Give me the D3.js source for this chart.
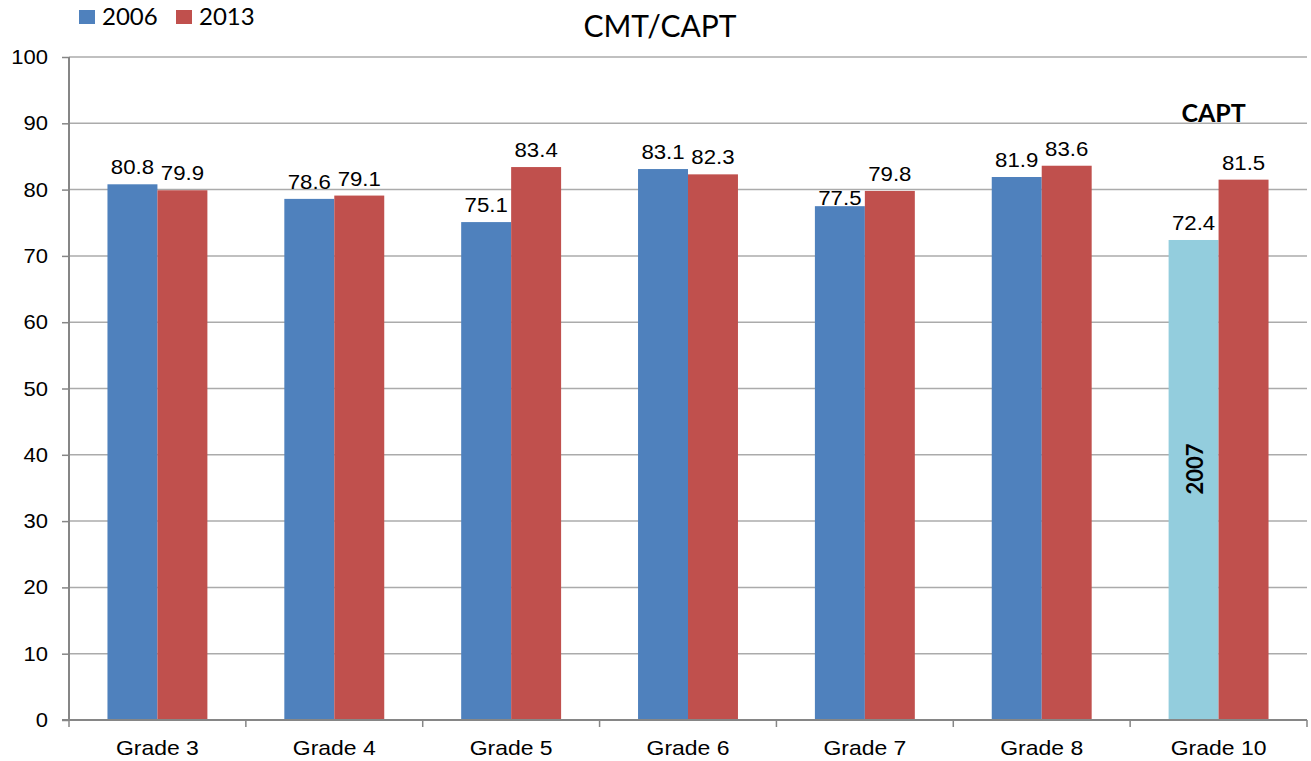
<!DOCTYPE html>
<html>
<head>
<meta charset="utf-8">
<script src="https://cdn.jsdelivr.net/npm/d3@7"></script>
<style>
  html, body { margin: 0; padding: 0; background: #ffffff; }
  svg { display: block; }
</style>
</head>
<body>
<svg id="chart" width="1311" height="761"></svg>
<script>
// ---------------- DATA ----------------
const categories = ["Grade 3", "Grade 4", "Grade 5", "Grade 6", "Grade 7", "Grade 8", "Grade 10"];
const seriesNames = ["2006", "2013"];
const values2006 = [80.8, 78.6, 75.1, 83.1, 77.5, 81.9, 72.4];
const values2013 = [79.9, 79.1, 83.4, 82.3, 79.8, 83.6, 81.5];
const yTicks = [0, 10, 20, 30, 40, 50, 60, 70, 80, 90, 100];
const titleText = "CMT/CAPT";
const captLabel = "CAPT";
const altYearLabel = "2007";          // Grade 10 first bar is actually 2007
const altYearCategory = "Grade 10";

// ---------------- STYLE ----------------
const colors = { "2006": "#4F81BD", "2013": "#C0504D", alt: "#93CDDD" };
const gridColor = "#ABABAB";
const axisColor = "#868686";
const sansFont = "'Liberation Sans', Arial, sans-serif";
const humanFont = "Lato, 'Open Sans', sans-serif";

const svg = d3.select("#chart");
const plot = { left: 69, right: 1307, top: 57, bottom: 720 };

const x = d3.scaleBand().domain(categories).range([plot.left, plot.right])
  .paddingInner(0.435).paddingOuter(0.2175);
const xs = d3.scaleBand().domain(seriesNames).range([0, x.bandwidth()]);
const y = d3.scaleLinear().domain([0, 100]).range([plot.bottom, plot.top]);

const rows = categories.map((c, i) => ({ cat: c, vals: [
  { series: "2006", v: values2006[i] },
  { series: "2013", v: values2013[i] }
]}));

// stretched text helper (reference text is horizontally widened)
function stext(g, tx, ty, sx, txt) {
  return g.append("text").attr("transform", `translate(${tx},${ty}) scale(${sx},1)`).text(txt);
}

// gridlines
svg.append("g").selectAll("line").data(yTicks.filter(t => t > 0)).join("line")
  .attr("x1", plot.left).attr("x2", plot.right)
  .attr("y1", d => y(d)).attr("y2", d => y(d))
  .attr("stroke", gridColor).attr("stroke-width", 1.5);

// bars
const groups = svg.append("g").selectAll("g").data(rows).join("g")
  .attr("transform", d => `translate(${x(d.cat)},0)`);
groups.selectAll("rect").data(d => d.vals.map(v => ({ ...v, cat: d.cat }))).join("rect")
  .attr("x", d => xs(d.series))
  .attr("width", xs.bandwidth())
  .attr("y", d => y(d.v))
  .attr("height", d => y(0) - y(d.v))
  .attr("fill", d => (d.cat === altYearCategory && d.series === "2006") ? colors.alt : colors[d.series]);

// value labels
const labelGap = 10;
const labelNudge = { "Grade 7|2006": 9 }; // label sits lower in reference
const lblG = svg.append("g").attr("font-family", sansFont).attr("font-size", 19.5)
  .attr("fill", "#000").attr("text-anchor", "middle");
rows.forEach(r => r.vals.forEach(v => {
  const cx = x(r.cat) + xs(v.series) + xs.bandwidth() / 2;
  const nudge = labelNudge[r.cat + "|" + v.series] || 0;
  stext(lblG, cx, y(v.v) - labelGap + nudge, 1.14, v.v.toFixed(1));
}));

// y axis
const yAxis = d3.axisLeft(y).tickValues(yTicks).tickSize(7).tickPadding(0).tickFormat(d3.format("d"));
const yg = svg.append("g").attr("transform", `translate(${plot.left},0)`).call(yAxis);
yg.select(".domain").attr("stroke", axisColor).attr("stroke-width", 2).attr("d", `M0,${plot.top}V${plot.bottom}`);
yg.selectAll(".tick line").attr("stroke", axisColor).attr("stroke-width", 1.5);
yg.selectAll(".tick text").remove();
const ylG = svg.append("g").attr("font-family", sansFont).attr("font-size", 20)
  .attr("fill", "#000").attr("text-anchor", "end");
yTicks.forEach(t => stext(ylG, 48, y(t) + 7, 1.1, String(t)));

// x axis
const xBoundaries = d3.range(categories.length + 1).map(i => plot.left + i * x.step());
const xg = svg.append("g");
xg.append("line").attr("x1", plot.left - 7).attr("x2", plot.right)
  .attr("y1", plot.bottom).attr("y2", plot.bottom)
  .attr("stroke", axisColor).attr("stroke-width", 2);
xg.selectAll("line.tk").data(xBoundaries).join("line").attr("class", "tk")
  .attr("x1", d => d).attr("x2", d => d)
  .attr("y1", plot.bottom).attr("y2", plot.bottom + 7)
  .attr("stroke", axisColor).attr("stroke-width", 1.5);
const xlG = svg.append("g").attr("font-family", sansFont).attr("font-size", 20.5)
  .attr("fill", "#000").attr("text-anchor", "middle");
categories.forEach(c => stext(xlG, x(c) + x.bandwidth() / 2, 755, 1.12, c));

// title
svg.append("text").attr("x", 660).attr("y", 37).attr("text-anchor", "middle")
  .attr("font-family", humanFont).attr("font-size", 30).attr("fill", "#000").text(titleText);

// legend
const legend = svg.append("g").attr("font-family", humanFont).attr("font-size", 24).attr("fill", "#000");
const legendX = [79, 176];
seriesNames.forEach((s, i) => {
  legend.append("rect").attr("x", legendX[i]).attr("y", 10).attr("width", 16).attr("height", 14).attr("fill", colors[s]);
  legend.append("text").attr("x", legendX[i] + 23).attr("y", 25).text(s);
});

// CAPT annotation
svg.append("text").attr("x", x(altYearCategory) + x.bandwidth() / 2 - 5).attr("y", 122)
  .attr("text-anchor", "middle").attr("font-family", humanFont).attr("font-weight", "bold")
  .attr("font-size", 25).attr("fill", "#000").text(captLabel);

// 2007 rotated annotation
const altCx = x(altYearCategory) + xs("2006") + xs.bandwidth() / 2;
svg.append("text").attr("transform", `translate(${altCx + 9},469) rotate(-90)`)
  .attr("text-anchor", "middle").attr("font-family", humanFont).attr("font-weight", "bold")
  .attr("font-size", 22).attr("fill", "#000").text(altYearLabel);
</script>
</body>
</html>
